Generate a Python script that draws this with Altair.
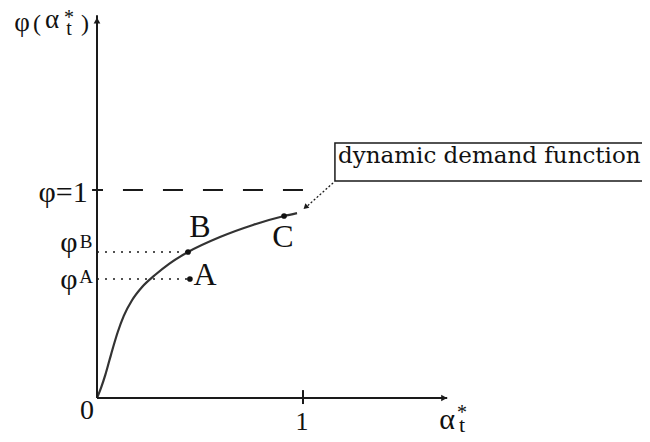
import altair as alt
import pandas as pd

# ---- data (in chart units: x = alpha*_t, y = phi) ----
curve_x = [0, 0.02, 0.04, 0.06, 0.08, 0.10, 0.13, 0.17, 0.22, 0.28, 0.35, 0.442, 0.597, 0.757, 0.908, 0.971]
curve_y = [0, 0.05, 0.11, 0.18, 0.25, 0.315, 0.395, 0.47, 0.535, 0.59, 0.645, 0.702, 0.774, 0.832, 0.875, 0.889]

point_names = ["A", "B", "C"]
point_x = [0.451, 0.442, 0.908]
point_y = [0.572, 0.702, 0.875]

# axes (solid), ticks
axis_x1 = [0, 0, 1.0, -0.024]
axis_y1 = [0, 0, 0.038, 1.0]
axis_x2 = [0, 1.70, 1.0, 0.029]
axis_y2 = [1.84, 0, -0.029, 1.0]

# dashed phi = 1 line
dash_x1, dash_x2, dash_y = [0.126], [1.0], [1.0]
# dotted guides to phi^B and phi^A
dot_x1 = [0, 0]
dot_x2 = [0.442, 0.44]
dot_y = [0.702, 0.572]
# dotted pointer from the label box
ptr_x1, ptr_y1, ptr_x2, ptr_y2 = [1.146], [1.034], [1.02], [0.922]

# label box
box_x1, box_x2, box_y1, box_y2 = [1.155], [2.80], [1.043], [1.226]
box_text = ["dynamic  demand function"]
box_tx, box_ty = [1.170], [1.128]

# text glyphs
lab_text = ["φ", "(", "α", "*", "t", ")",
            "φ=1", "φ", "B", "φ", "A",
            "B", "A", "C", "0", "1", "α", "*", "t"]
lab_x = [-0.364, -0.291, -0.218, -0.136, -0.136, -0.058,
         -0.165, -0.136, -0.053, -0.136, -0.053,
         0.500, 0.524, 0.903, -0.049, 0.995, 1.699, 1.772, 1.772]
lab_y = [1.764, 1.764, 1.779, 1.798, 1.745, 1.764,
         0.942, 0.702, 0.721, 0.524, 0.553,
         0.774, 0.543, 0.726, -0.101, -0.154, -0.149, -0.101, -0.163]
lab_fs = [27, 24, 27, 20, 20, 24,
          30, 30, 19, 30, 19,
          32, 32, 32, 28, 26, 30, 20, 22]

XMIN, XMAX = -0.43204, 2.64563
YMIN, YMAX = -0.17308, 1.875

xs = alt.Scale(domain=[XMIN, XMAX], nice=False, zero=False)
ys = alt.Scale(domain=[YMIN, YMAX], nice=False, zero=False)

curve = pd.DataFrame({"x": curve_x, "y": curve_y})
pts = pd.DataFrame({"name": point_names, "x": point_x, "y": point_y})
axes = pd.DataFrame({"x": axis_x1, "y": axis_y1, "x2": axis_x2, "y2": axis_y2})
dash = pd.DataFrame({"x": dash_x1, "x2": dash_x2, "y": dash_y})
dots = pd.DataFrame({"x": dot_x1, "x2": dot_x2, "y": dot_y})
ptr = pd.DataFrame({"x": ptr_x1, "y": ptr_y1, "x2": ptr_x2, "y2": ptr_y2})
box = pd.DataFrame({"x": box_x1, "x2": box_x2, "y": box_y1, "y2": box_y2})
btxt = pd.DataFrame({"t": box_text, "x": box_tx, "y": box_ty})
labs = pd.DataFrame({"t": lab_text, "x": lab_x, "y": lab_y, "fs": lab_fs})

X = alt.X("x:Q", scale=xs, axis=None)
Y = alt.Y("y:Q", scale=ys, axis=None)

axes_l = alt.Chart(axes).mark_rule(color="#1a1a1a", strokeWidth=2).encode(
    x=X, y=Y, x2="x2:Q", y2="y2:Q")

yarrow = alt.Chart(pd.DataFrame({"x": [0], "y": [1.815]})).mark_point(
    shape="triangle-up", filled=True, color="#1a1a1a", size=45, opacity=1).encode(x=X, y=Y)
xarrow = alt.Chart(pd.DataFrame({"x": [1.685], "y": [0]})).mark_point(
    shape="triangle-up", angle=90, filled=True, color="#1a1a1a", size=45, opacity=1).encode(x=X, y=Y)

dash_l = alt.Chart(dash).mark_rule(color="#1a1a1a", strokeWidth=2, strokeDash=[20, 20]).encode(
    x=X, x2="x2:Q", y=Y)
dots_l = alt.Chart(dots).mark_rule(color="#1a1a1a", strokeWidth=1.6, strokeDash=[2, 6]).encode(
    x=X, x2="x2:Q", y=Y)

ptr_l = alt.Chart(ptr).mark_rule(color="#1a1a1a", strokeWidth=1.3, strokeDash=[2, 2]).encode(
    x=X, y=Y, x2="x2:Q", y2="y2:Q")
ptr_head = alt.Chart(pd.DataFrame({"x": [1.012], "y": [0.917]})).mark_point(
    shape="triangle-up", angle=228, filled=True, color="#1a1a1a", size=35, opacity=1).encode(x=X, y=Y)

box_l = alt.Chart(box).mark_rect(fill="white", stroke="#1a1a1a", strokeWidth=1.5, clip=True).encode(
    x=X, x2="x2:Q", y=Y, y2="y2:Q")
box_t = alt.Chart(btxt).mark_text(font="DejaVu Serif", fontSize=23, align="left",
                                  baseline="alphabetic", color="#111").encode(x=X, y=Y, text="t:N")

curve_l = alt.Chart(curve).mark_line(color="#333333", strokeWidth=2.2, interpolate="monotone").encode(
    x=X, y=Y)
pts_l = alt.Chart(pts).mark_circle(color="#111", size=32, opacity=1).encode(x=X, y=Y)

labs_l = alt.Chart(labs).mark_text(font="Liberation Serif", align="center",
                                   baseline="alphabetic", color="#111").encode(
    x=X, y=Y, text="t:N", size=alt.Size("fs:Q", scale=None, legend=None))

chart = alt.layer(
    dash_l, dots_l, curve_l, axes_l, yarrow, xarrow, pts_l,
    box_l, box_t, ptr_l, ptr_head, labs_l
).properties(
    width=634, height=426,
    autosize=alt.AutoSizeParams(type="none"),
    padding=0,
    background="white",
).configure_view(stroke=None)

chart.save("out.html", embed_options={"renderer": "svg", "actions": False})
